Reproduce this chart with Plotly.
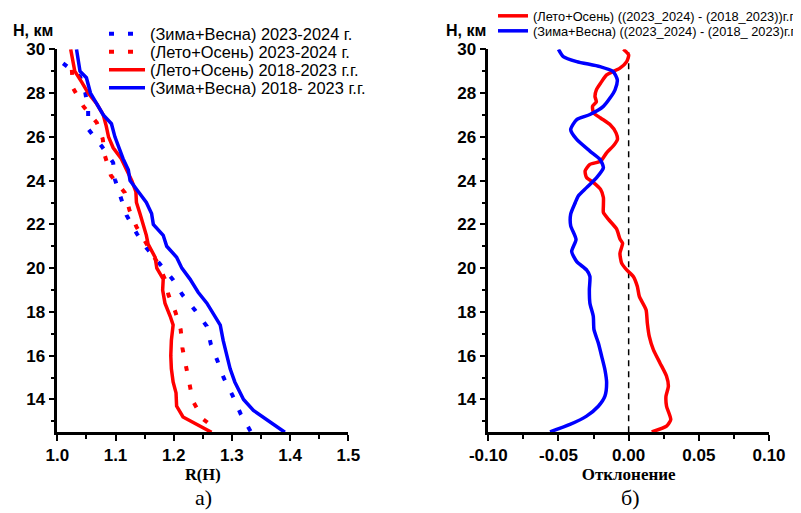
import plotly.graph_objects as go

# ---------------- Panel a): R(H) ----------------
h_ws_2324 = [29.36, 28.76, 28.03, 27.24, 26.36, 25.58, 24.82, 24.06, 23.23, 22.42, 21.56, 20.93,
             20.23, 19.5, 18.78, 18.07, 17.34, 16.5, 15.78, 14.98, 14.19, 13.34, 12.55]
r_ws_2324 = [1.010, 1.039, 1.048, 1.053, 1.053, 1.076, 1.096, 1.099, 1.109, 1.119, 1.137, 1.153,
             1.175, 1.198, 1.215, 1.237, 1.257, 1.264, 1.275, 1.286, 1.301, 1.315, 1.332]

h_so_2324 = [29.06, 28.23, 27.39, 26.64, 25.91, 25.12, 24.24, 23.45, 22.65, 21.89, 21.17, 20.35,
             19.5, 18.78, 17.99, 17.19, 16.35, 15.52, 14.73, 13.92, 13.09, 12.56]
r_so_2324 = [1.025, 1.027, 1.045, 1.068, 1.078, 1.082, 1.092, 1.116, 1.124, 1.136, 1.152, 1.170,
             1.185, 1.191, 1.203, 1.212, 1.215, 1.222, 1.227, 1.233, 1.251, 1.277]

h_so_1823 = [30, 29, 28.5, 28, 27.5, 27, 26.5, 26, 25.5, 25, 24.5, 24, 23.5, 23, 22.5, 22, 21.5,
             21.1, 20.5, 20, 19.5, 19.0, 18.4, 17.8, 17.4, 16.7, 16.0, 15.4, 14.8, 14.3, 13.7,
             13.2, 12.85, 12.5]
r_so_1823 = [1.023, 1.030, 1.042, 1.053, 1.068, 1.079, 1.084, 1.088, 1.096, 1.110, 1.119, 1.128,
             1.135, 1.136, 1.142, 1.148, 1.153, 1.156, 1.168, 1.171, 1.182, 1.181, 1.185, 1.194,
             1.199, 1.196, 1.195, 1.196, 1.199, 1.204, 1.205, 1.216, 1.239, 1.265]

h_ws_1823 = [30, 29, 28.7, 28, 27, 26.6, 26, 25, 24.5, 24, 23.5, 23, 22.5, 22, 21.5, 21.0, 20.5,
             20, 19.5, 18.9, 18.4, 17.95, 17.4, 16.7, 16.0, 15.4, 14.8, 14.0, 13.5, 13.0, 12.5]
r_ws_1823 = [1.033, 1.039, 1.050, 1.057, 1.079, 1.093, 1.099, 1.113, 1.122, 1.125, 1.139, 1.153,
             1.162, 1.165, 1.182, 1.188, 1.205, 1.214, 1.228, 1.242, 1.257, 1.268, 1.280, 1.285,
             1.291, 1.297, 1.305, 1.320, 1.337, 1.365, 1.391]

# ---------------- Panel б): deviation ----------------
h_dev_so = [30, 29.74, 29.44, 29.14, 28.83, 28.45, 28.15, 27.85, 27.6, 27.4, 27.1, 26.86, 26.56,
            26.18, 25.88, 25.58, 25.27, 24.89, 24.74, 24.44, 24.14, 23.91, 23.6, 23.23, 22.85,
            22.55, 22.24, 21.79, 21.33, 21.14, 20.68, 20.23, 19.92, 19.62, 19.16, 18.71, 18.1,
            17.49, 16.88, 16.28, 15.67, 15.06, 14.6, 14.15, 13.69, 13.08, 12.78, 12.52]
d_dev_so = [-0.0038, 0.0, -0.0014, -0.0062, -0.0157, -0.020, -0.023, -0.024, -0.023, -0.0257,
            -0.025, -0.020, -0.0133, -0.009, -0.008, -0.011, -0.0157, -0.020, -0.0276, -0.031,
            -0.030, -0.025, -0.020, -0.018, -0.018, -0.018, -0.0145, -0.0086, -0.0062, -0.0043,
            -0.0062, -0.005, -0.0014, 0.0033, 0.0062, 0.0076, 0.0124, 0.0133, 0.0147, 0.0176,
            0.0223, 0.027, 0.0283, 0.0266, 0.027, 0.030, 0.027, 0.0164]

h_dev_ws = [30, 29.67, 29.44, 29.21, 28.98, 28.61, 28.15, 27.77, 27.39, 27.02, 26.79, 26.33,
            25.88, 25.35, 24.97, 24.59, 24.14, 23.68, 23.3, 23.0, 22.47, 21.94, 21.31, 20.76,
            20.3, 19.92, 19.62, 19.01, 18.4, 17.8, 17.19, 16.58, 15.97, 15.36, 14.76, 14.15,
            13.69, 13.24, 12.86, 12.52]
d_dev_ws = [-0.050, -0.0466, -0.037, -0.0204, -0.011, -0.0081, -0.0097, -0.0133, -0.018, -0.0276,
            -0.037, -0.0413, -0.037, -0.0276, -0.0204, -0.018, -0.0228, -0.030, -0.0359, -0.038,
            -0.0413, -0.0413, -0.0375, -0.0406, -0.037, -0.030, -0.0276, -0.028, -0.0276,
            -0.0252, -0.0247, -0.0216, -0.0192, -0.0169, -0.0157, -0.0169, -0.0216, -0.030,
            -0.0418, -0.056]

zero_x = [0, 0]
zero_h = [12.5, 30.1]

dev_tickvals = [-0.10, -0.05, 0.0, 0.05, 0.10]
dev_ticktext = ["-0.10", "-0.05", "0.00", "0.05", "0.10"]

RED = "#FF0000"
BLUE = "#0000FF"
SANS = "Liberation Sans, Arial, sans-serif"
SERIF = "Liberation Serif, Times New Roman, serif"

W, H = 801, 513
OFF = 8  # page body margin


def px(x):
    return (x - OFF) / W


def py(y):
    return 1 - (y - OFF) / H


fig = go.Figure()
dot = "5px,14px"
fig.add_trace(go.Scatter(x=r_ws_2324, y=h_ws_2324, mode="lines", name="(Зима+Весна) 2023-2024 г.",
                         line=dict(color=BLUE, width=4, dash=dot), xaxis="x", yaxis="y", legend="legend"))
fig.add_trace(go.Scatter(x=r_so_2324, y=h_so_2324, mode="lines", name="(Лето+Осень) 2023-2024 г.",
                         line=dict(color=RED, width=4, dash=dot), xaxis="x", yaxis="y", legend="legend3"))
fig.add_trace(go.Scatter(x=r_so_1823, y=h_so_1823, mode="lines", name="(Лето+Осень) 2018-2023 г.г.",
                         line=dict(color=RED, width=3.5), xaxis="x", yaxis="y", legend="legend4"))
fig.add_trace(go.Scatter(x=r_ws_1823, y=h_ws_1823, mode="lines", name="(Зима+Весна) 2018- 2023 г.г.",
                         line=dict(color=BLUE, width=3.5), xaxis="x", yaxis="y", legend="legend5"))

fig.add_trace(go.Scatter(x=zero_x, y=zero_h, mode="lines", showlegend=False,
                         line=dict(color="black", width=1.5, dash="6px,5px"), xaxis="x2", yaxis="y2"))
fig.add_trace(go.Scatter(x=d_dev_so, y=h_dev_so, mode="lines",
                         name="(Лето+Осень) ((2023_2024) - (2018_2023))г.г.",
                         line=dict(color=RED, width=3.5, shape="spline", smoothing=0.6),
                         xaxis="x2", yaxis="y2", legend="legend2"))
fig.add_trace(go.Scatter(x=d_dev_ws, y=h_dev_ws, mode="lines",
                         name="(Зима+Весна) ((2023_2024) - (2018_ 2023)г.г.",
                         line=dict(color=BLUE, width=3.5, shape="spline", smoothing=0.6),
                         xaxis="x2", yaxis="y2", legend="legend6"))

tickfont = dict(family=SANS, size=17, color="black", weight="bold")
common_axis = dict(showline=True, linecolor="black", linewidth=2.5, ticks="outside", ticklen=6,
                   tickwidth=2, tickcolor="black", showgrid=False, zeroline=False, tickfont=tickfont,
                   automargin=False)

ydom = [py(432.3), py(49.3)]


def leg(xp, yp, size, iw):
    return dict(x=px(xp), y=py(yp), xanchor="left", yanchor="middle", bgcolor="rgba(0,0,0,0)",
                borderwidth=0, itemwidth=iw, font=dict(family=SANS, size=size, color="black"))


fig.update_layout(
    width=W, height=H,
    margin=dict(l=0, r=0, t=0, b=0, pad=0, autoexpand=False),
    paper_bgcolor="white", plot_bgcolor="white",
    xaxis=dict(domain=[px(57.3), px(348.3)], range=[1.0, 1.5], dtick=0.1, tick0=1.0,
               tickformat=".1f", anchor="y",
               minor=dict(dtick=0.05, ticklen=4, tickwidth=2, tickcolor="black", ticks="outside"),
               title=dict(text="R(H)", font=dict(family=SERIF, size=16.5, color="black", weight="bold"),
                          standoff=4),
               **common_axis),
    yaxis=dict(domain=ydom, range=[12.5, 30], dtick=2, tick0=0, anchor="x",
               minor=dict(dtick=1, ticklen=4, tickwidth=2, tickcolor="black", ticks="outside"),
               **common_axis),
    xaxis2=dict(domain=[px(488.3), px(769)], range=[-0.1, 0.1], tickvals=dev_tickvals,
                ticktext=dev_ticktext, anchor="y2",
                minor=dict(dtick=0.025, ticklen=4, tickwidth=2, tickcolor="black", ticks="outside"),
                title=dict(text="Отклонение", font=dict(family=SERIF, size=17, color="black", weight="bold"),
                           standoff=4),
                **common_axis),
    yaxis2=dict(domain=ydom, range=[12.5, 30], dtick=2, tick0=0, anchor="x2",
                minor=dict(dtick=1, ticklen=4, tickwidth=2, tickcolor="black", ticks="outside"),
                **common_axis),
    legend=leg(104, 34, 16.4, 36),
    legend3=leg(104, 52, 16.4, 36),
    legend4=leg(104, 70, 16.4, 36),
    legend5=leg(104, 88, 16.4, 36),
    legend2=leg(493, 16, 12.8, 30),
    legend6=leg(493, 31, 12.8, 30),
    showlegend=True,
    annotations=[
        dict(text="H, км", x=px(11), y=py(30), xref="paper", yref="paper", xanchor="left",
             yanchor="middle", showarrow=False, font=dict(family=SANS, size=16, color="black", weight="bold")),
        dict(text="H, км", x=px(444), y=py(31), xref="paper", yref="paper", xanchor="left",
             yanchor="middle", showarrow=False, font=dict(family=SANS, size=16, color="black", weight="bold")),
        dict(text="а)", x=px(203), y=py(497), xref="paper", yref="paper", xanchor="center",
             yanchor="middle", showarrow=False, font=dict(family=SERIF, size=22, color="black")),
        dict(text="б)", x=px(630), y=py(497), xref="paper", yref="paper", xanchor="center",
             yanchor="middle", showarrow=False, font=dict(family=SERIF, size=22, color="black")),
    ],
)

fig.write_html("out.html")
